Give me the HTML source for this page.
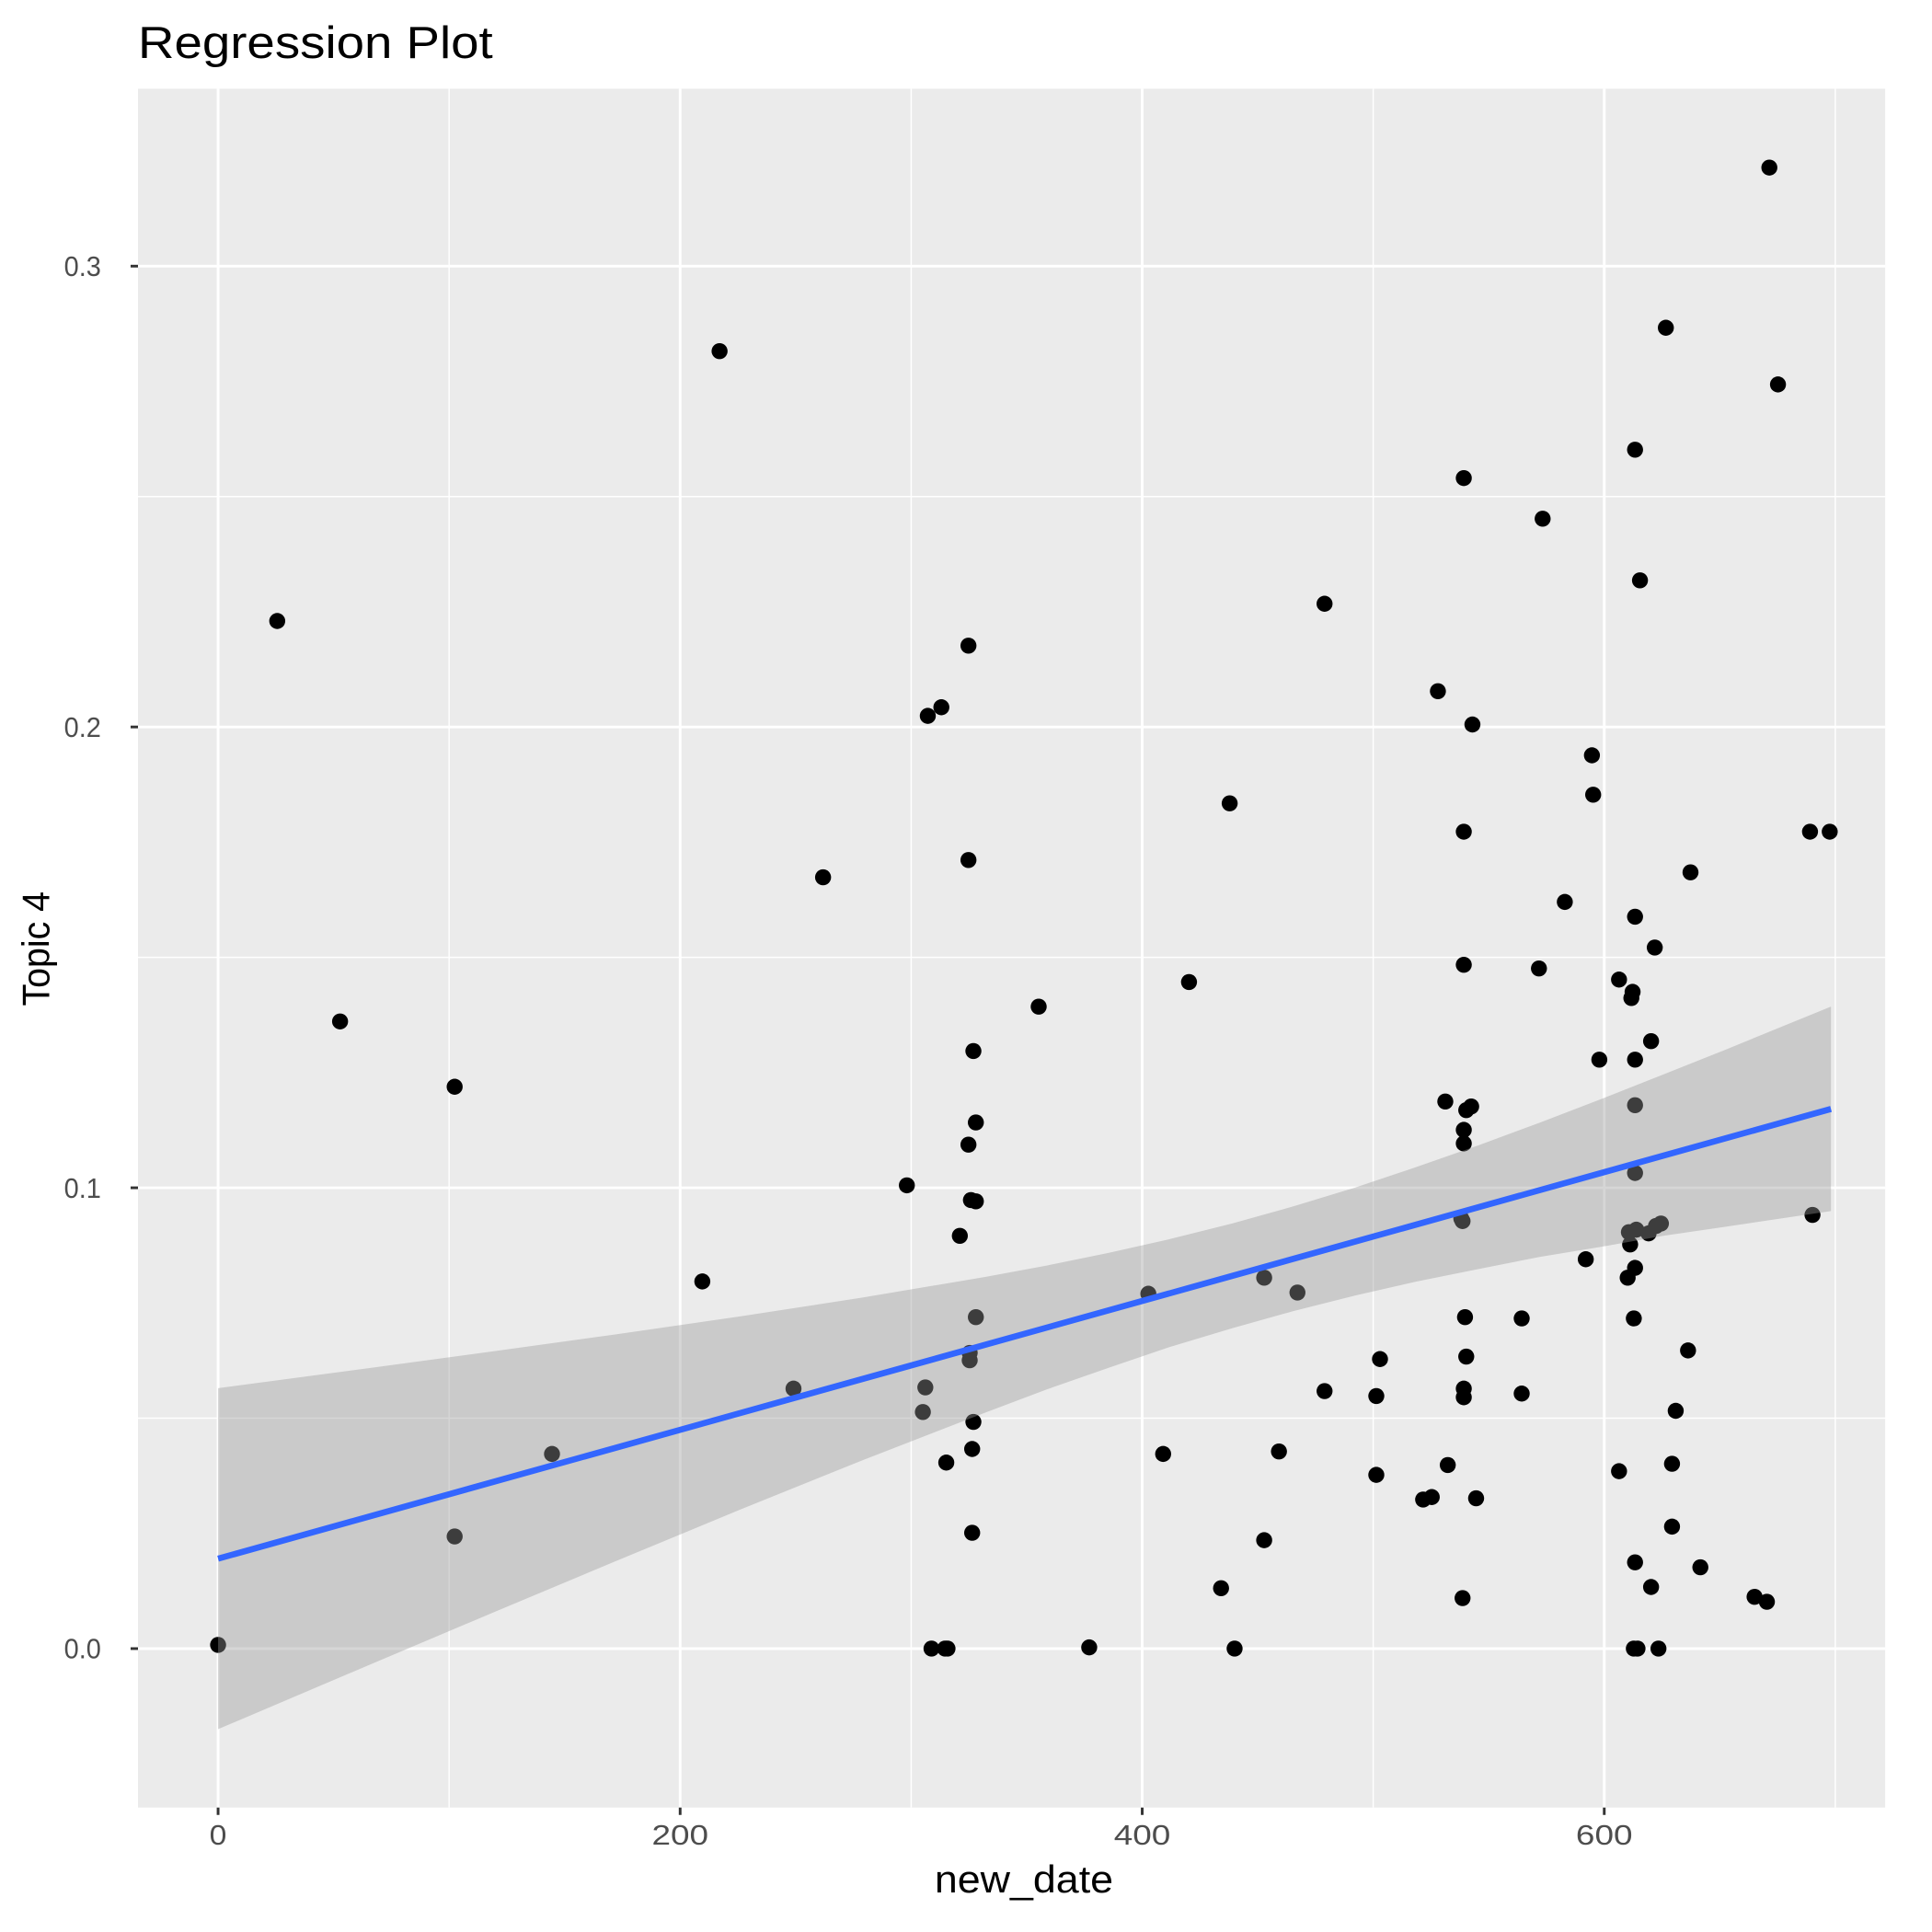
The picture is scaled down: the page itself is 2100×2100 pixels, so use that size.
<!DOCTYPE html>
<html><head><meta charset="utf-8"><style>html,body{margin:0;padding:0;background:#fff}svg{display:block}</style></head>
<body>
<svg width="2100" height="2100" viewBox="0 0 1568 1568" xmlns="http://www.w3.org/2000/svg" font-family="Liberation Sans, sans-serif">
<rect x="0" y="0" width="1568" height="1568" fill="#fff"/>
<rect x="112" y="72" width="1418" height="1395" fill="#ebebeb"/>
<g stroke="#fff" stroke-width="1.1">
<line x1="364.5" y1="72" x2="364.5" y2="1467"/><line x1="739.5" y1="72" x2="739.5" y2="1467"/><line x1="1114.5" y1="72" x2="1114.5" y2="1467"/><line x1="1489.5" y1="72" x2="1489.5" y2="1467"/>
<line x1="112" y1="1151" x2="1530" y2="1151"/><line x1="112" y1="777" x2="1530" y2="777"/><line x1="112" y1="403" x2="1530" y2="403"/>
</g>
<g stroke="#fff" stroke-width="2.2">
<line x1="177" y1="72" x2="177" y2="1467"/><line x1="552" y1="72" x2="552" y2="1467"/><line x1="927" y1="72" x2="927" y2="1467"/><line x1="1302" y1="72" x2="1302" y2="1467"/>
<line x1="112" y1="1338" x2="1530" y2="1338"/><line x1="112" y1="964" x2="1530" y2="964"/><line x1="112" y1="590" x2="1530" y2="590"/><line x1="112" y1="216" x2="1530" y2="216"/>
</g>
<g fill="#000">
<circle cx="177" cy="1335" r="6.5"/><circle cx="225" cy="504" r="6.5"/><circle cx="276" cy="829" r="6.5"/><circle cx="369" cy="882" r="6.5"/><circle cx="448" cy="1180" r="6.5"/><circle cx="369" cy="1247" r="6.5"/><circle cx="570" cy="1040" r="6.5"/><circle cx="584" cy="285" r="6.5"/><circle cx="644" cy="1127" r="6.5"/><circle cx="668" cy="712" r="6.5"/><circle cx="736" cy="962" r="6.5"/><circle cx="749" cy="1146" r="6.5"/><circle cx="751" cy="1126" r="6.5"/><circle cx="753" cy="581" r="6.5"/><circle cx="756" cy="1338" r="6.5"/><circle cx="764" cy="574" r="6.5"/><circle cx="767" cy="1338" r="6.5"/><circle cx="768" cy="1187" r="6.5"/><circle cx="769" cy="1338" r="6.5"/><circle cx="779" cy="1003" r="6.5"/><circle cx="786" cy="524" r="6.5"/><circle cx="786" cy="698" r="6.5"/><circle cx="786" cy="929" r="6.5"/><circle cx="787" cy="1104" r="6.5"/><circle cx="787" cy="1098" r="6.5"/><circle cx="788" cy="974" r="6.5"/><circle cx="789" cy="1244" r="6.5"/><circle cx="789" cy="1176" r="6.5"/><circle cx="790" cy="853" r="6.5"/><circle cx="790" cy="1154" r="6.5"/><circle cx="792" cy="911" r="6.5"/><circle cx="792" cy="975" r="6.5"/><circle cx="792" cy="1069" r="6.5"/><circle cx="843" cy="817" r="6.5"/><circle cx="884" cy="1337" r="6.5"/><circle cx="932" cy="1050" r="6.5"/><circle cx="944" cy="1180" r="6.5"/><circle cx="965" cy="797" r="6.5"/><circle cx="991" cy="1289" r="6.5"/><circle cx="998" cy="652" r="6.5"/><circle cx="1002" cy="1338" r="6.5"/><circle cx="1026" cy="1037" r="6.5"/><circle cx="1026" cy="1250" r="6.5"/><circle cx="1038" cy="1178" r="6.5"/><circle cx="1053" cy="1049" r="6.5"/><circle cx="1075" cy="1129" r="6.5"/><circle cx="1075" cy="490" r="6.5"/><circle cx="1117" cy="1133" r="6.5"/><circle cx="1117" cy="1197" r="6.5"/><circle cx="1120" cy="1103" r="6.5"/><circle cx="1155" cy="1217" r="6.5"/><circle cx="1162" cy="1215" r="6.5"/><circle cx="1167" cy="561" r="6.5"/><circle cx="1173" cy="894" r="6.5"/><circle cx="1175" cy="1189" r="6.5"/><circle cx="1186" cy="989" r="6.5"/><circle cx="1187" cy="991" r="6.5"/><circle cx="1187" cy="1297" r="6.5"/><circle cx="1188" cy="388" r="6.5"/><circle cx="1188" cy="675" r="6.5"/><circle cx="1188" cy="783" r="6.5"/><circle cx="1188" cy="917" r="6.5"/><circle cx="1188" cy="928" r="6.5"/><circle cx="1188" cy="1127" r="6.5"/><circle cx="1188" cy="1134" r="6.5"/><circle cx="1189" cy="1069" r="6.5"/><circle cx="1190" cy="1101" r="6.5"/><circle cx="1190" cy="901" r="6.5"/><circle cx="1194" cy="898" r="6.5"/><circle cx="1195" cy="588" r="6.5"/><circle cx="1198" cy="1216" r="6.5"/><circle cx="1235" cy="1070" r="6.5"/><circle cx="1235" cy="1131" r="6.5"/><circle cx="1249" cy="786" r="6.5"/><circle cx="1252" cy="421" r="6.5"/><circle cx="1270" cy="732" r="6.5"/><circle cx="1287" cy="1022" r="6.5"/><circle cx="1292" cy="613" r="6.5"/><circle cx="1293" cy="645" r="6.5"/><circle cx="1298" cy="860" r="6.5"/><circle cx="1314" cy="795" r="6.5"/><circle cx="1314" cy="1194" r="6.5"/><circle cx="1321" cy="1037" r="6.5"/><circle cx="1322" cy="1000" r="6.5"/><circle cx="1323" cy="1010" r="6.5"/><circle cx="1324" cy="810" r="6.5"/><circle cx="1325" cy="805" r="6.5"/><circle cx="1326" cy="1070" r="6.5"/><circle cx="1326" cy="1338" r="6.5"/><circle cx="1327" cy="365" r="6.5"/><circle cx="1327" cy="744" r="6.5"/><circle cx="1327" cy="860" r="6.5"/><circle cx="1327" cy="897" r="6.5"/><circle cx="1327" cy="952" r="6.5"/><circle cx="1327" cy="1029" r="6.5"/><circle cx="1327" cy="1268" r="6.5"/><circle cx="1328" cy="998" r="6.5"/><circle cx="1329" cy="1338" r="6.5"/><circle cx="1331" cy="471" r="6.5"/><circle cx="1338" cy="1001" r="6.5"/><circle cx="1340" cy="845" r="6.5"/><circle cx="1340" cy="1288" r="6.5"/><circle cx="1343" cy="769" r="6.5"/><circle cx="1344" cy="995" r="6.5"/><circle cx="1346" cy="1338" r="6.5"/><circle cx="1348" cy="993" r="6.5"/><circle cx="1352" cy="266" r="6.5"/><circle cx="1357" cy="1239" r="6.5"/><circle cx="1357" cy="1188" r="6.5"/><circle cx="1360" cy="1145" r="6.5"/><circle cx="1370" cy="1096" r="6.5"/><circle cx="1372" cy="708" r="6.5"/><circle cx="1380" cy="1272" r="6.5"/><circle cx="1424" cy="1296" r="6.5"/><circle cx="1434" cy="1300" r="6.5"/><circle cx="1436" cy="136" r="6.5"/><circle cx="1443" cy="312" r="6.5"/><circle cx="1469" cy="675" r="6.5"/><circle cx="1471" cy="986" r="6.5"/><circle cx="1485" cy="675" r="6.5"/>
</g>
<polygon fill="#999999" fill-opacity="0.4" points="177,1126.6 300,1110.3 400,1096.8 500,1082.9 600,1068.5 700,1053.1 800,1036.3 850,1027 900,1016.8 950,1005.5 1000,993 1050,979 1100,963.8 1150,947 1200,929.5 1250,911 1300,891.8 1350,872 1400,852.1 1486,816.9 1486,982.9 1400,995.7 1350,1003 1300,1011.8 1250,1020 1200,1029.9 1150,1040 1100,1051.4 1050,1064 1000,1078 950,1093 900,1110 850,1127.5 800,1146.3 700,1185.1 600,1225.5 500,1266.9 400,1308.8 300,1351.1 177,1403.4"/>
<line x1="177" y1="1265" x2="1486" y2="900" stroke="#3366ff" stroke-width="5"/>
<g stroke="#333" stroke-width="2.2">
<line x1="106" y1="1338" x2="112" y2="1338"/><line x1="106" y1="964" x2="112" y2="964"/><line x1="106" y1="590" x2="112" y2="590"/><line x1="106" y1="216" x2="112" y2="216"/>
<line x1="177" y1="1467" x2="177" y2="1473"/><line x1="552" y1="1467" x2="552" y2="1473"/><line x1="927" y1="1467" x2="927" y2="1473"/><line x1="1302" y1="1467" x2="1302" y2="1473"/>
</g>
<g fill="#4d4d4d" font-size="23">
<text x="82" y="1346" text-anchor="end" textLength="30" lengthAdjust="spacingAndGlyphs">0.0</text>
<text x="82" y="972" text-anchor="end" textLength="30" lengthAdjust="spacingAndGlyphs">0.1</text>
<text x="82" y="598" text-anchor="end" textLength="30" lengthAdjust="spacingAndGlyphs">0.2</text>
<text x="82" y="224" text-anchor="end" textLength="30" lengthAdjust="spacingAndGlyphs">0.3</text>
<text x="177" y="1497" text-anchor="middle" textLength="14" lengthAdjust="spacingAndGlyphs">0</text>
<text x="552" y="1497" text-anchor="middle" textLength="46" lengthAdjust="spacingAndGlyphs">200</text>
<text x="927" y="1497" text-anchor="middle" textLength="46" lengthAdjust="spacingAndGlyphs">400</text>
<text x="1302" y="1497" text-anchor="middle" textLength="46" lengthAdjust="spacingAndGlyphs">600</text>
</g>
<text x="831" y="1536" text-anchor="middle" font-size="31" textLength="145" lengthAdjust="spacingAndGlyphs" fill="#000">new_date</text>
<text transform="translate(40,770) rotate(-90)" text-anchor="middle" font-size="31" textLength="93" lengthAdjust="spacingAndGlyphs" fill="#000">Topic 4</text>
<text x="112" y="47" font-size="37" textLength="288" lengthAdjust="spacingAndGlyphs" fill="#000">Regression Plot</text>
</svg>
</body></html>
